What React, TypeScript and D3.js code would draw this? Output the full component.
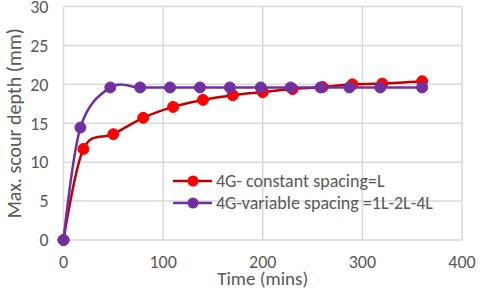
import * as React from "react";
import * as d3 from "d3";

const constTime = [0, 20, 50, 80, 110, 140, 170, 200, 230, 260, 290, 320, 360];
const constDepth = [0, 11.7, 13.6, 15.7, 17.1, 18.0, 18.6, 19.0, 19.4, 19.65, 20.0, 20.1, 20.4];
const varTime = [0, 17, 47, 77, 107, 137, 167, 198, 228, 258, 287, 318, 360];
const varDepth = [0, 14.45, 19.6, 19.6, 19.6, 19.6, 19.6, 19.6, 19.6, 19.6, 19.6, 19.6, 19.6];
const xTicks = [0, 100, 200, 300, 400];
const yTicks = [0, 5, 10, 15, 20, 25, 30];
const seriesNames = ["4G- constant spacing=L", "4G-variable spacing =1L-2L-4L"];

const font = "Carlito, 'Open Sans', sans-serif";

export default function App() {
  const width = 480, height = 295;
  const margin = { top: 6.5, right: 18, bottom: 55, left: 63.5 };

  const x = d3.scaleLinear().domain([0, 400]).range([margin.left, width - margin.right]);
  const y = d3.scaleLinear().domain([0, 30]).range([height - margin.bottom, margin.top]);

  // excel-style smoothed line
  const line = d3.line<[number, number]>()
    .x(d => x(d[0]))
    .y(d => y(d[1]))
    .curve(d3.curveCardinal.tension(0));

  const series = [
    { name: seriesNames[0], pts: constTime.map((t, i) => [t, constDepth[i]] as [number, number]), line: "#C00000", fill: "#FF0000" },
    { name: seriesNames[1], pts: varTime.map((t, i) => [t, varDepth[i]] as [number, number]), line: "#7030A0", fill: "#7030A0" },
  ];

  return (
    <svg width={width} height={height} style={{ position: "absolute", left: 0, top: 0 }} fontFamily={font}>
      <rect width={width} height={height} fill="#fff" />
      {xTicks.map(t => (
        <line key={"gx" + t} x1={x(t)} x2={x(t)} y1={y(0)} y2={y(30)} stroke="#D9D9D9" strokeWidth={1.5} />
      ))}
      {yTicks.map(t => (
        <line key={"gy" + t} x1={x(0)} x2={x(400)} y1={y(t)} y2={y(t)} stroke="#D9D9D9" strokeWidth={1.5} />
      ))}
      {yTicks.map(t => (
        <text key={"ty" + t} x={x(0) - 15} y={y(t)} dy="0.35em" textAnchor="end" fontSize={18} fill="#595959">{t}</text>
      ))}
      {xTicks.map(t => (
        <text key={"tx" + t} x={x(t)} y={y(0) + 28} textAnchor="middle" fontSize={18} fill="#595959">{t}</text>
      ))}
      <text x={x(200)} y={285} textAnchor="middle" fontSize={19} fill="#595959">Time (mins)</text>
      <text transform={`translate(21,${y(15)}) rotate(-90)`} textAnchor="middle" fontSize={20} fill="#595959">Max. scour depth (mm)</text>
      {series.map(s => (
        <g key={s.name}>
          <path d={line(s.pts) || ""} fill="none" stroke={s.line} strokeWidth={2.5} />
          {s.pts.map((p, i) => (
            <circle key={i} cx={x(p[0])} cy={y(p[1])} r={5.5} fill={s.fill} stroke={s.fill} strokeWidth={1} />
          ))}
        </g>
      ))}
      {series.map((s, i) => {
        const ly = 181 + i * 22;
        return (
          <g key={"lg" + i}>
            <line x1={173} x2={212} y1={ly} y2={ly} stroke={s.line} strokeWidth={2.5} />
            <circle cx={193} cy={ly} r={5.5} fill={s.fill} />
            <text x={216} y={ly} dy="0.35em" fontSize={18} fill="#595959">{s.name}</text>
          </g>
        );
      })}
    </svg>
  );
}
